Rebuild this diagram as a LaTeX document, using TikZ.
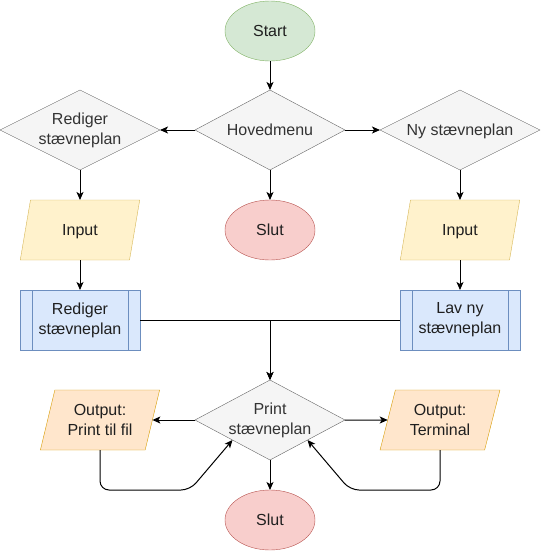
\documentclass[tikz,border=0pt]{standalone}
\usepackage{fontspec}
\setmainfont{Liberation Sans}
\usepackage{tikz}
\usetikzlibrary{shapes.geometric,arrows.meta}

\definecolor{grnfill}{HTML}{D5E8D4}
\definecolor{grnline}{HTML}{82B366}
\definecolor{redfill}{HTML}{F8CECC}
\definecolor{redline}{HTML}{B85450}
\definecolor{gryfill}{HTML}{F5F5F5}
\definecolor{gryline}{HTML}{666666}
\definecolor{grytext}{HTML}{333333}
\definecolor{yelfill}{HTML}{FFF2CC}
\definecolor{yelline}{HTML}{D6B656}
\definecolor{blufill}{HTML}{DAE8FC}
\definecolor{bluline}{HTML}{6C8EBF}
\definecolor{orgfill}{HTML}{FFE6CC}
\definecolor{orgline}{HTML}{D79B00}

\begin{document}
\begin{tikzpicture}
[x=1pt,y=-1pt,
font=\fontsize{16}{20}\selectfont,
every node/.style={align=center,inner sep=0pt,outer sep=0pt,text=grytext!60!black},
flat/.style={text depth=0pt},
term/.style={ellipse,draw=grnline,fill=grnfill,minimum width=90pt,minimum height=60pt},
stop/.style={ellipse,draw=redline,fill=redfill,minimum width=90pt,minimum height=60pt},
choice/.style={diamond,aspect=1.9,draw=gryline,fill=gryfill,text=grytext,minimum width=150pt,minimum height=80pt},
wide choice/.style={choice,aspect=2,minimum width=160pt},
inbox/.style={trapezium,trapezium left angle=71.57,trapezium right angle=108.43,trapezium stretches=true,
  draw=yelline,fill=yelfill,minimum width=120pt,minimum height=60pt,flat},
outbox/.style={inbox,draw=orgline,fill=orgfill},
sub/.style={rectangle,draw=bluline,fill=blufill,minimum width=120pt,minimum height=60pt,
  path picture={\draw[bluline] ([xshift=12pt]path picture bounding box.north west) -- ([xshift=12pt]path picture bounding box.south west);
                \draw[bluline] ([xshift=-12pt]path picture bounding box.north east) -- ([xshift=-12pt]path picture bounding box.south east);}},
flow/.style={draw=black,line width=1pt,-{Stealth[length=8pt,width=7pt,inset=2pt]}},
loop/.style={flow,rounded corners=9pt}]

\useasboundingbox (0,0) rectangle (541,552);

\node at (270,31)  [term]       (start)  {Start};
\node at (270,130) [choice]     (hoved)  {Hovedmenu};
\node at (80,130)  [wide choice] (redig) {Rediger\\stævneplan};
\node at (460,130) [wide choice,flat] (nyplan) {Ny stævneplan};
\node at (270,230) [stop]       (slutA)  {Slut};

\node at (80,230)  [inbox]      (inL)    {Input};
\node at (460,230) [inbox]      (inR)    {Input};
\node at (80,320)  [sub]        (procL)  {Rediger\\stævneplan};
\node at (460,320) [sub]        (procR)  {Lav ny\\stævneplan};

\node at (270,420) [choice]     (print)  {Print\\stævneplan};
\node at (100,420) [outbox]     (outL)   {Output:\\Print til fil};
\node at (440,420) [outbox]     (outR)   {Output:\\Terminal};
\node at (270,520) [stop]       (slutB)  {Slut};

\coordinate (loopL) at (190,490);
\coordinate (loopR) at (350,490);

\draw [flow] (start) to (hoved);
\draw [flow] (hoved.west) to (redig.east);
\draw [flow] (hoved.east) to (nyplan.west);
\draw [flow] (hoved) to (slutA);
\draw [flow] (redig) to (inL);
\draw [flow] (nyplan) to (inR);
\draw [flow] (inL) to (procL);
\draw [flow] (inR) to (procR);
\draw [flow] (procL.east) -| (print.north);
\draw [flow] (procR.west) -| (print.north);
\draw [flow] (print.west) to (outL);
\draw [flow] (print.east) to (outR);
\draw [flow] (print) to (slutB);
\draw [loop] (outL.south) |- (loopL) -- (print.south west);
\draw [loop] (outR.south) |- (loopR) -- (print.south east);
\end{tikzpicture}
\end{document}
